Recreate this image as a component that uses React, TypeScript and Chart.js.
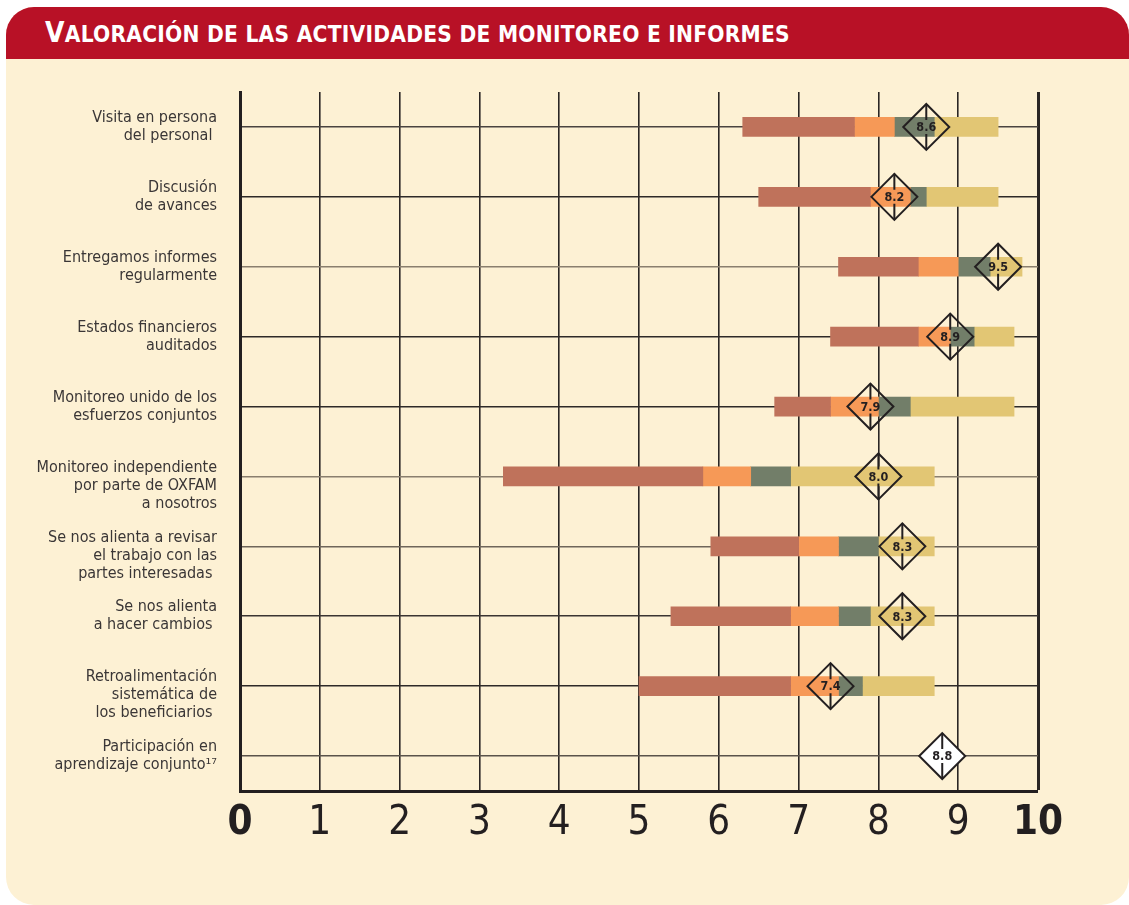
import React, { useEffect, useRef } from "react";
import { Chart, registerables } from "chart.js";

Chart.register(...registerables);

const NARROW = "'Liberation Sans Narrow', 'DejaVu Sans Condensed', 'Arial Narrow', sans-serif";

const categories: string[][] = [
  ["Visita en persona", "del personal "],
  ["Discusión", "de avances"],
  ["Entregamos informes", "regularmente"],
  ["Estados financieros", "auditados"],
  ["Monitoreo unido de los", "esfuerzos conjuntos"],
  ["", "Monitoreo independiente", "por parte de OXFAM", "a nosotros"],
  ["", "Se nos alienta a revisar", "el trabajo con las", "partes interesadas "],
  ["Se nos alienta", "a hacer cambios "],
  ["", "Retroalimentación", "sistemática de", "los beneficiarios "],
  ["Participación en", "aprendizaje conjunto¹⁷"],
];

// segment boundaries
const minScore: (number | null)[] = [6.3, 6.5, 7.5, 7.4, 6.7, 3.3, 5.9, 5.4, 5.0, null];
const lowerQuartile: (number | null)[] = [7.7, 7.9, 8.5, 8.5, 7.4, 5.8, 7.0, 6.9, 6.9, null];
const median: (number | null)[] = [8.2, 8.4, 9.0, 8.9, 8.0, 6.4, 7.5, 7.5, 7.5, null];
const upperQuartile: (number | null)[] = [8.7, 8.6, 9.4, 9.2, 8.4, 6.9, 8.0, 7.9, 7.8, null];
const maxScore: (number | null)[] = [9.5, 9.5, 9.8, 9.7, 9.7, 8.7, 8.7, 8.7, 8.7, null];
const averages: number[] = [8.6, 8.2, 9.5, 8.9, 7.9, 8.0, 8.3, 8.3, 7.4, 8.8];

const xTicks: number[] = [0, 1, 2, 3, 4, 5, 6, 7, 8, 9, 10];

const segColors = ["#BF725B", "#F69957", "#727E69", "#E2C674"];
const hLineColors = ["#4a4440", "#2e2a28", "#8a7f6e", "#2e2a28", "#2e2a28", "#8a7f6e", "#6f665a", "#3a3532", "#2e2a28", "#5a534a"];

const DIAMOND_R = 23;

function pairs(a: (number | null)[], b: (number | null)[]) {
  return a.map((v, i) => (v == null || b[i] == null ? null : [v, b[i] as number]));
}

const diamondPlugin = {
  id: "diamondLabels",
  afterDatasetsDraw(chart: any) {
    const meta = chart.getDatasetMeta(4);
    const ctx = chart.ctx;
    ctx.save();
    meta.data.forEach((pt: any, i: number) => {
      const { x, y } = pt.getProps(["x", "y"], true);
      ctx.strokeStyle = "#231f20";
      ctx.lineWidth = 2;
      ctx.beginPath();
      ctx.moveTo(x, y - DIAMOND_R);
      ctx.lineTo(x, y - 7);
      ctx.moveTo(x, y + 7);
      ctx.lineTo(x, y + DIAMOND_R);
      ctx.stroke();
      ctx.font = `bold 12.5px ${NARROW}`;
      ctx.textAlign = "center";
      ctx.textBaseline = "middle";
      ctx.fillStyle = "#231f20";
      ctx.fillText(averages[i].toFixed(1), x, y + 1);
    });
    ctx.restore();
  },
};

export default function App() {
  const ref = useRef<HTMLCanvasElement | null>(null);

  useEffect(() => {
    if (!ref.current) return;
    const chart = new Chart(ref.current, {
      type: "bar",
      data: {
        labels: categories as any,
        datasets: [
          { data: pairs(minScore, lowerQuartile) as any, backgroundColor: segColors[0], grouped: false, barThickness: 19, order: 1 } as any,
          { data: pairs(lowerQuartile, median) as any, backgroundColor: segColors[1], grouped: false, barThickness: 19, order: 1 } as any,
          { data: pairs(median, upperQuartile) as any, backgroundColor: segColors[2], grouped: false, barThickness: 19, order: 1 } as any,
          { data: pairs(upperQuartile, maxScore) as any, backgroundColor: segColors[3], grouped: false, barThickness: 19, order: 1 } as any,
          {
            type: "line",
            indexAxis: "y",
            data: averages,
            showLine: false,
            pointStyle: "rectRot",
            pointRadius: DIAMOND_R,
            pointHoverRadius: DIAMOND_R,
            pointBorderWidth: 2,
            pointBorderColor: "#231f20",
            pointBackgroundColor: averages.map((_, i) => (i === averages.length - 1 ? "#ffffff" : "rgba(0,0,0,0)")),
            order: 0,
            clip: false,
          } as any,
        ],
      },
      options: {
        indexAxis: "y",
        responsive: false,
        animation: false,
        events: [],
        layout: { padding: { top: 33, right: 91, bottom: 0, left: 0 } },
        plugins: { legend: { display: false }, tooltip: { enabled: false }, title: { display: false } },
        scales: {
          x: {
            type: "linear",
            min: 0,
            max: 10,
            afterBuildTicks: (scale: any) => {
              scale.ticks = xTicks.map((v) => ({ value: v }));
            },
            afterFit: (scale: any) => {
              scale.height = 114;
              scale.paddingLeft = 0;
              scale.paddingRight = 0;
            },
            border: { display: true, width: 3, color: "#231f20" },
            grid: {
              drawTicks: false,
              color: "#2a2624",
              lineWidth: (c: any) => (c.tick && c.tick.value === 10 ? 3 : c.tick && c.tick.value === 0 ? 0 : 1.6),
            },
            ticks: {
              autoSkip: false,
              maxRotation: 0,
              padding: 13,
              color: "#231f20",
              font: (c: any) => ({
                family: NARROW,
                size: 40,
                lineHeight: 1,
                weight: c.tick && (c.tick.value === 0 || c.tick.value === 10) ? "bold" : "normal",
              }),
            },
          },
          y: {
            type: "category",
            offset: true,
            afterFit: (scale: any) => {
              scale.width = 234;
              scale.paddingTop = 0;
              scale.paddingBottom = 0;
            },
            border: { display: true, width: 3, color: "#231f20" },
            grid: {
              offset: false,
              drawTicks: false,
              lineWidth: 1.6,
              color: (c: any) => hLineColors[c.index] || "#2e2a28",
            },
            ticks: {
              autoSkip: false,
              padding: 23,
              color: "#3a3636",
              font: { family: NARROW, size: 16, lineHeight: 1.125 },
            },
          },
        },
      },
      plugins: [diamondPlugin],
    } as any);
    return () => chart.destroy();
  }, []);

  return (
    <div style={{ position: "absolute", left: 0, top: 0, width: 1129, height: 905, background: "#ffffff", overflow: "hidden" }}>
      <div
        style={{
          position: "absolute",
          left: 6,
          top: 7,
          width: 1123,
          height: 898,
          borderRadius: 28,
          background: "#FDF1D4",
          overflow: "hidden",
        }}
      >
        <div style={{ position: "absolute", left: 0, top: 0, width: 1123, height: 52, background: "#B81126" }}>
          <div
            style={{
              position: "absolute",
              left: 39,
              top: 11,
              color: "#ffffff",
              fontFamily: NARROW,
              fontWeight: "bold",
              whiteSpace: "nowrap",
              lineHeight: "30px",
              letterSpacing: 0.25,
            }}
          >
            <span style={{ fontSize: 28 }}>V</span>
            <span style={{ fontSize: 22.5 }}>ALORACIÓN DE LAS ACTIVIDADES DE MONITOREO E INFORMES</span>
          </div>
        </div>
        <canvas ref={ref} width={1123} height={846} style={{ position: "absolute", left: 0, top: 52, width: 1123, height: 846 }} />
      </div>
    </div>
  );
}
